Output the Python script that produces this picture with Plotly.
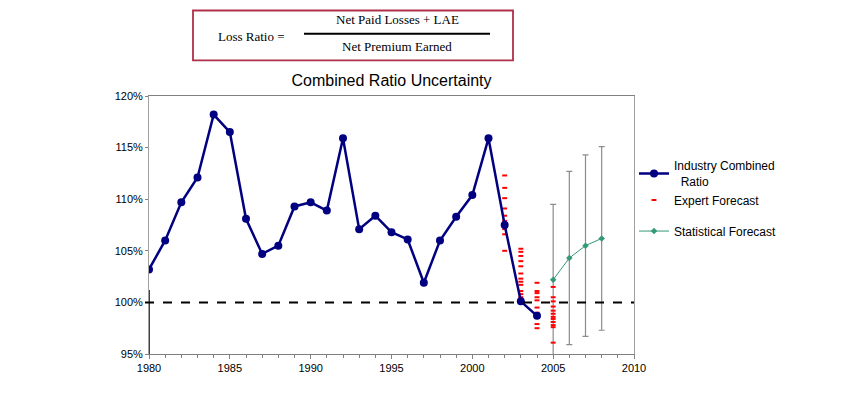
import plotly.graph_objects as go

# ---------------- data ----------------
years = list(range(1980, 2005))
combined_ratio = [103.2, 106.0, 109.7, 112.1, 118.2, 116.5, 108.1, 104.7, 105.5, 109.3,
                  109.7, 108.9, 115.9, 107.1, 108.4, 106.8, 106.1, 101.9, 106.0, 108.3,
                  110.4, 115.9, 107.5, 100.1, 98.7]

forecast_years = [2005, 2006, 2007, 2008]
statistical_forecast = [102.2, 104.3, 105.5, 106.2]
forecast_error = [7.3, 8.4, 8.8, 8.9]

expert_2002 = [112.3, 111.1, 110.1, 109.1, 108.4, 107.9, 107.6, 107.1, 106.6, 105.0]
expert_2003 = [105.2, 104.9, 104.5, 104.0, 103.5, 102.8, 102.3, 102.0, 101.7, 101.1, 100.8, 100.5]
expert_2004 = [101.9, 101.1, 100.9, 100.5, 100.2, 99.5, 99.0, 98.8, 98.6, 97.9, 97.5]
expert_2005 = [101.5, 100.5, 100.1, 99.6, 99.2, 98.9, 98.6, 98.4, 98.1, 97.8, 97.6, 96.1]
expert_sets = {2002: expert_2002, 2003: expert_2003, 2004: expert_2004, 2005: expert_2005}

x_ticks = [1980, 1985, 1990, 1995, 2000, 2005, 2010]
y_ticks = [95, 100, 105, 110, 115, 120]
y_tick_labels = ["95%", "100%", "105%", "110%", "115%", "120%"]

title_text = "Combined Ratio Uncertainty"
formula_left = "Loss Ratio ="
formula_num = "Net Paid Losses + LAE"
formula_den = "Net Premium Earned"

# ---------------- layout helpers ----------------
OFF = 8                      # default page margin of the browser
W, H = 850 - 2 * OFF, 394 - 2 * OFF
PL, PR, PT, PB = 149 - OFF, 634 - OFF, 96 - OFF, 357 - OFF


def px(x):
    """screen x -> paper x"""
    return (x - OFF - PL) / (PR - PL)


def py(y):
    """screen y -> paper y"""
    return (PB - (y - OFF)) / (PB - PT)


expert_x, expert_y = [], []
for yr, vals in expert_sets.items():
    expert_x += [yr] * len(vals)
    expert_y += vals

fig = go.Figure()

fig.add_trace(go.Scatter(
    x=forecast_years, y=statistical_forecast, mode="lines+markers",
    name="Statistical Forecast", legendrank=3, legendgroup="b",
    line=dict(color="#339977", width=1),
    marker=dict(symbol="diamond", size=5, color="#339977"),
    error_y=dict(type="data", array=forecast_error, visible=True,
                 color="#8c8c8c", thickness=1.2, width=3),
))

fig.add_trace(go.Scatter(
    x=expert_x, y=expert_y, mode="markers", name="Expert Forecast",
    legendrank=2, legendgroup="a",
    marker=dict(symbol="line-ew", size=3.5, color="#ff0000",
                line=dict(color="#ff0000", width=2)),
))

fig.add_trace(go.Scatter(
    x=years, y=combined_ratio, mode="lines+markers",
    name="Industry Combined<br>\u00a0\u00a0Ratio", legendrank=1, legendgroup="a",
    line=dict(color="#000080", width=2.5),
    marker=dict(symbol="circle", size=8, color="#000080"),
))

shapes = [
    # 100% dashed reference line
    dict(type="line", xref="paper", yref="y", x0=px(145), x1=1.0, y0=100, y1=100,
         line=dict(color="black", width=2, dash="dash"), layer="above"),
    # black segment on left axis
    dict(type="line", xref="x", yref="y", x0=years[0], x1=years[0], y0=95, y1=101.2,
         line=dict(color="black", width=1.5)),
    # formula box
    dict(type="rect", xref="paper", yref="paper", x0=px(193), x1=px(513),
         y0=py(60), y1=py(9.5), line=dict(color="#b0304a", width=1.8),
         fillcolor="white"),
    # fraction bar
    dict(type="line", xref="paper", yref="paper", x0=px(304), x1=px(490),
         y0=py(33), y1=py(33), line=dict(color="black", width=2)),
]

serif = dict(family="Liberation Serif, Times New Roman, serif", size=13, color="black")
annotations = [
    dict(text=formula_left, xref="paper", yref="paper", x=px(251), y=py(36),
         showarrow=False, font=serif, xanchor="center", yanchor="middle"),
    dict(text=formula_num, xref="paper", yref="paper", x=px(397), y=py(19),
         showarrow=False, font=serif, xanchor="center", yanchor="middle"),
    dict(text=formula_den, xref="paper", yref="paper", x=px(397), y=py(46),
         showarrow=False, font=serif, xanchor="center", yanchor="middle"),
]

axis_font = dict(family="Liberation Sans, Arial, sans-serif", size=11, color="black")

fig.update_layout(
    width=W, height=H,
    margin=dict(l=PL, r=W - PR, t=PT, b=H - PB, pad=0),
    paper_bgcolor="white", plot_bgcolor="white",
    font=dict(family="Liberation Sans, Arial, sans-serif", color="black"),
    title=dict(text=title_text, x=(0.5 * (PL + PR)) / W, xanchor="center",
               y=1 - (80 - OFF) / H, yanchor="middle", yref="container",
               font=dict(family="Liberation Sans, Arial, sans-serif", size=16, color="black")),
    xaxis=dict(range=[1980, 2010], tickvals=x_ticks, ticks="outside", ticklen=4,
               tickcolor="#808080", showgrid=False, zeroline=False,
               showline=True, linecolor="#808080", linewidth=1, mirror=True,
               tickfont=axis_font,
               minor=dict(dtick=1, ticks="outside", ticklen=3, tickcolor="#808080",
                          showgrid=False)),
    yaxis=dict(range=[95, 120], tickvals=y_ticks, ticktext=y_tick_labels, ticks="outside",
               ticklen=3, tickcolor="#808080", showgrid=False, zeroline=False,
               showline=True, linecolor="#a0a0a0", linewidth=1, mirror=True,
               tickfont=axis_font),
    legend=dict(x=1.0, xanchor="left", y=py(152), yanchor="top",
                font=dict(family="Liberation Sans, Arial, sans-serif", size=12, color="black"),
                itemwidth=30, traceorder="grouped", tracegroupgap=12,
                bgcolor="rgba(0,0,0,0)"),
    shapes=shapes,
    annotations=annotations,
    showlegend=True,
)

fig.write_html("out.html")
